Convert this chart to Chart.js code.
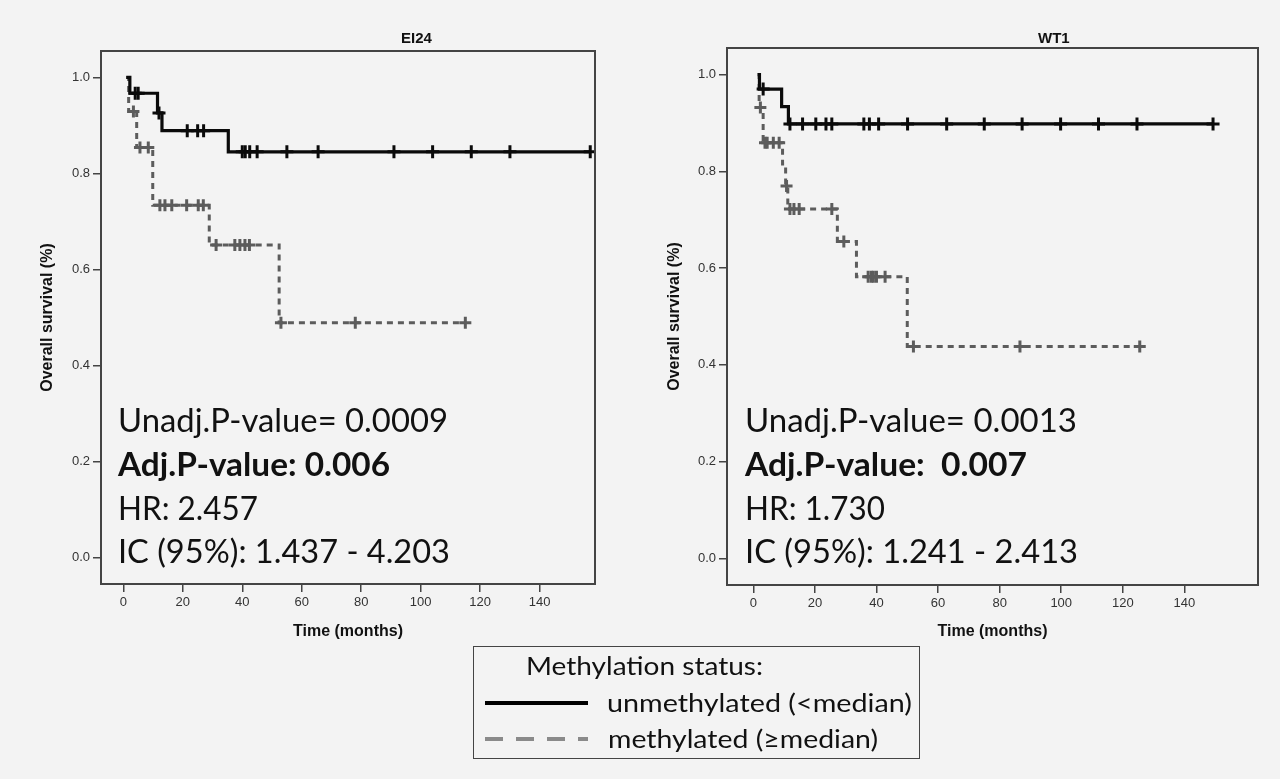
<!DOCTYPE html>
<html><head><meta charset="utf-8">
<script src="https://cdn.jsdelivr.net/npm/chart.js@4.4.1/dist/chart.umd.min.js"></script>
<style>
html,body{margin:0;padding:0;background:#f3f3f3;width:1280px;height:779px;overflow:hidden;position:relative}
canvas{position:absolute;top:0}
.t{position:absolute;white-space:pre;font-family:Lato,"Open Sans",sans-serif;color:#111;transform-origin:0 0;line-height:1;font-size:32px}
.b{font-weight:bold}
.ttl{position:absolute;font-family:"Liberation Sans",Arial,sans-serif;font-weight:bold;font-size:15px;color:#111;white-space:nowrap;line-height:1}
#legend{position:absolute;left:473px;top:646px;width:447px;height:113px;border:1.5px solid #444;box-sizing:border-box}
.lg{font-size:25px}
.ln{position:absolute;height:4px}
</style></head>
<body>
<canvas id="c1" width="640" height="660" style="left:0"></canvas>
<canvas id="c2" width="640" height="660" style="left:640px"></canvas>

<div class="ttl" style="left:401px;top:30px">EI24</div>
<div class="ttl" style="left:1038px;top:30px">WT1</div>

<div class="t" style="left:118px;top:404px" data-w="330">Unadj.P-value= 0.0009</div>
<div class="t b" style="left:118px;top:448px" data-w="272">Adj.P-value: 0.006</div>
<div class="t" style="left:118px;top:492px" data-w="140">HR: 2.457</div>
<div class="t" style="left:118px;top:535px" data-w="332">IC (95%): 1.437 - 4.203</div>

<div class="t" style="left:745px;top:404px" data-w="332">Unadj.P-value= 0.0013</div>
<div class="t b" style="left:745px;top:448px" data-w="282">Adj.P-value:  0.007</div>
<div class="t" style="left:745px;top:492px" data-w="140">HR: 1.730</div>
<div class="t" style="left:745px;top:535px" data-w="333">IC (95%): 1.241 - 2.413</div>

<div id="legend"></div>
<div class="t lg" style="left:526px;top:653px" data-w="237">Methylation status:</div>
<div class="ln" style="left:485px;top:701px;width:103px;background:#000"></div>
<div class="t lg" style="left:607px;top:690px" data-w="305">unmethylated (&lt;median)</div>
<div class="ln" style="left:485px;top:737px;width:103px;background:repeating-linear-gradient(90deg,#8a8a8a 0 18px,transparent 18px 31px)"></div>
<div class="t lg" style="left:608px;top:726px" data-w="270">methylated (≥median)</div>

<script>
// ---- data ----
const xTicks = [0, 20, 40, 60, 80, 100, 120, 140];
const yTicks = [0, 0.2, 0.4, 0.6, 0.8, 1.0];

const ei24UnmethT = [1, 2.2, 11.5, 13, 35.3, 157];
const ei24UnmethS = [1.0, 0.967, 0.926, 0.889, 0.845, 0.845];
const ei24UnmethCens = [4, 5, 12, 21.5, 25, 27, 40, 41, 42.5, 45, 55, 65.5, 91, 104, 117, 130, 157];

const ei24MethT = [1, 1.8, 4.5, 9.9, 28.9, 52.4, 115];
const ei24MethS = [1.0, 0.929, 0.854, 0.734, 0.651, 0.489, 0.489];
const ei24MethCens = [3.4, 5.6, 8.4, 12.3, 14, 16.3, 21.3, 25.2, 26.9, 31.2, 37.5, 39.2, 40.9, 42.4, 53, 78, 115];

const wt1UnmethT = [1.4, 2, 9.2, 11.4, 149.3];
const wt1UnmethS = [1.0, 0.970, 0.934, 0.898, 0.898];
const wt1UnmethCens = [3.2, 11.9, 16, 20.3, 23.6, 25.5, 35.9, 37.7, 40.7, 50.1, 62.8, 75, 87.3, 99.8, 112.1, 124.6, 149.3];

const wt1MethT = [1.4, 1.9, 3.2, 9.5, 10.5, 11.2, 27.3, 33.5, 50, 125.5];
const wt1MethS = [1.0, 0.932, 0.859, 0.815, 0.770, 0.722, 0.655, 0.582, 0.438, 0.438];
const wt1MethCens = [2.3, 3.8, 4.5, 6.5, 8.4, 10.8, 11.9, 13.2, 14.9, 25.5, 29.4, 37.3, 38.3, 39, 40, 42.8, 52, 86.6, 125.5];

// ---- helpers ----
function survAt(T, S, t) {
  let v = S[0];
  for (let i = 0; i < T.length; i++) { if (T[i] <= t) v = S[i]; }
  return v;
}
function curve(T, S) { return T.map((t, i) => ({x: t, y: S[i]})); }
function cens(T, S, C) { return C.map(t => ({x: t, y: survAt(T, S, t)})); }

const BLACK = '#0a0a0a', GRAY = '#5c5c5c', FRAME = '#444';

const framePlugin = {
  id: 'frame',
  afterDraw(chart) {
    const a = chart.chartArea, ctx = chart.ctx;
    ctx.save();
    ctx.strokeStyle = FRAME; ctx.lineWidth = 2;
    ctx.strokeRect(a.left, a.top, a.right - a.left, a.bottom - a.top);
    ctx.restore();
  }
};

function makeChart(id, d, g) {
  const ds = [
    {type: 'scatter', data: cens(d.uT, d.uS, d.uC), pointStyle: 'cross', pointRadius: 6.5, borderColor: BLACK, pointBorderWidth: 3},
    {type: 'line', data: curve(d.uT, d.uS), stepped: 'before', borderColor: BLACK, borderWidth: 3.2, pointRadius: 0, fill: false},
    {type: 'scatter', data: cens(d.mT, d.mS, d.mC), pointStyle: 'cross', pointRadius: 6, borderColor: GRAY, pointBorderWidth: 3},
    {type: 'line', data: curve(d.mT, d.mS), stepped: 'before', borderColor: GRAY, borderWidth: 3, borderDash: [6, 5], pointRadius: 0, fill: false}
  ];
  const tickFont = {family: '"Liberation Sans", Arial, sans-serif', size: 13};
  const titleFont = {family: '"Liberation Sans", Arial, sans-serif', size: 16, weight: 'bold'};
  return new Chart(document.getElementById(id), {
    data: {datasets: ds},
    options: {
      responsive: false, animation: false, devicePixelRatio: 1,
      layout: {padding: {left: 0, top: g.top, right: g.right, bottom: 0}},
      plugins: {legend: {display: false}, tooltip: {enabled: false}, title: {display: false}},
      scales: {
        x: {
          type: 'linear', min: g.xmin, max: g.xmax,
          afterBuildTicks: s => { s.ticks = xTicks.map(v => ({value: v})); },
          afterFit: s => { s.height = g.xh; },
          ticks: {font: tickFont, color: '#333', padding: 3, maxRotation: 0, autoSkip: false},
          grid: {drawOnChartArea: false, drawTicks: true, tickLength: 8, color: FRAME, lineWidth: 1.5},
          border: {display: true, color: FRAME, width: 2},
          title: {display: true, text: 'Time (months)', font: titleFont, color: '#111', padding: {top: 0, bottom: g.xtp}}
        },
        y: {
          type: 'linear', min: -0.055, max: 1.055,
          afterBuildTicks: s => { s.ticks = yTicks.map(v => ({value: v})); },
          afterFit: s => { s.width = g.yw; },
          ticks: {font: tickFont, color: '#333', padding: 3, callback: v => v.toFixed(1)},
          grid: {drawOnChartArea: false, drawTicks: true, tickLength: 8, color: FRAME, lineWidth: 1.5},
          border: {display: true, color: FRAME, width: 2},
          title: {display: true, text: 'Overall survival (%)', font: titleFont, color: '#111', padding: {top: g.ytp, bottom: 0}}
        }
      }
    },
    plugins: [framePlugin]
  });
}

makeChart('c1',
  {uT: ei24UnmethT, uS: ei24UnmethS, uC: ei24UnmethCens, mT: ei24MethT, mS: ei24MethS, mC: ei24MethCens},
  {top: 51, right: 45, xh: 76, yw: 101, xtp: 18.4, ytp: 38.4, xmin: -7.5, xmax: 158.6});
makeChart('c2',
  {uT: wt1UnmethT, uS: wt1UnmethS, uC: wt1UnmethCens, mT: wt1MethT, mS: wt1MethS, mC: wt1MethCens},
  {top: 48, right: 22, xh: 75, yw: 87, xtp: 18.4, ytp: 25.4, xmin: -8.54, xmax: 163.9});

// fit annotation text widths
document.querySelectorAll('[data-w]').forEach(el => {
  const w = el.getBoundingClientRect().width;
  el.style.transform = 'scaleX(' + (+el.dataset.w / w) + ')';
});
</script>
</body></html>
